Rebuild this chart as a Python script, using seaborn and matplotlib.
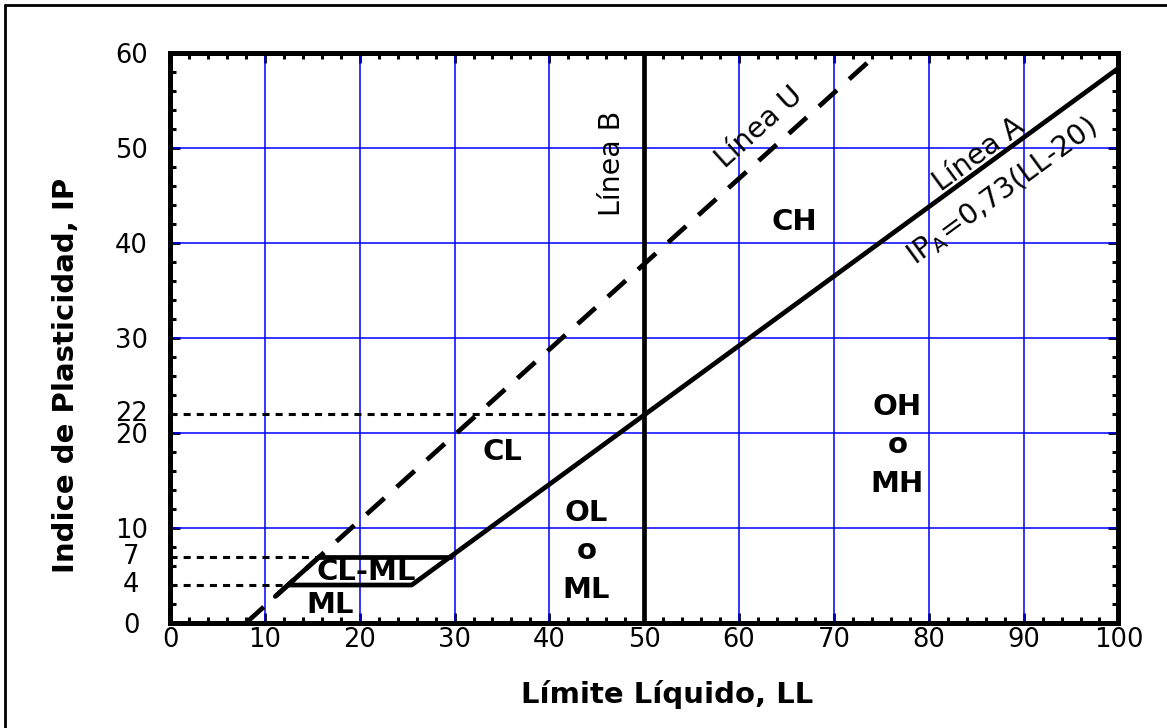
import numpy as np
import matplotlib
matplotlib.use("Agg")
import matplotlib.pyplot as plt
from matplotlib.lines import Line2D
from matplotlib.ticker import MultipleLocator
import seaborn as sns

# Casagrande plasticity chart (IP vs LL)
# Line A: IP = 0.73 (LL - 20)
line_a_ll = [12.44, 25.48, 100.0]
line_a_ip = [4.0, 4.0, 58.4]
# upper edge of the CL-ML band
band_top_ll = [15.78, 29.59]
band_top_ip = [7.0, 7.0]
# Line U: IP = 0.9 (LL - 8)
line_u_ll = [8.0, 74.67]
line_u_ip = [0.0, 60.0]
band_edge_ll = [11.1, 15.78]
band_edge_ip = [2.8, 7.0]
# Line B: LL = 50
line_b_ll = [50.0, 50.0]
line_b_ip = [0.0, 60.0]
# reference levels marked on the IP axis
ref_ip = [4, 7, 22]
ref_ll_end = [12.44, 15.78, 50.0]

x_ticks = [0, 10, 20, 30, 40, 50, 60, 70, 80, 90, 100]
y_ticks = [0, 10, 20, 30, 40, 50, 60]
y_extra = [4, 7, 22]

zones = ["CH", "CL", "OL\no\nML", "OH\no\nMH", "CL-ML", "ML"]
zone_pos = [(65.8, 41.4), (35.1, 17.2), (43.9, 2.63), (76.7, 13.8), (20.7, 4.5), (16.9, 1.05)]

sns.set_theme(style="white")
plt.rcParams["font.family"] = ["DejaVu Sans"]
plt.rcParams["mathtext.default"] = "regular"
plt.rcParams.update({"text.color": "black", "axes.labelcolor": "black",
                     "xtick.color": "black", "ytick.color": "black"})

fig = plt.figure(figsize=(11.67, 7.28), dpi=100)
ax = fig.add_axes([0.1457, 0.1442, 0.8127, 0.7830])

blue = "#0000ff"
lw = 3.4

# grid
for v in x_ticks[1:-1]:
    ax.axvline(v, color=blue, lw=1.1, zorder=1)
for v in y_ticks[1:-1]:
    ax.axhline(v, color=blue, lw=1.1, zorder=1)

# dotted reference lines
for yv, xe in zip(ref_ip, ref_ll_end):
    sns.lineplot(x=[0, xe], y=[yv, yv], ax=ax, color="black", lw=2.2,
                 linestyle=(0, (2.3, 2.0)), estimator=None, sort=False, zorder=3)

# Line U (dashed)
sns.lineplot(x=line_u_ll, y=line_u_ip, ax=ax, color="black", lw=lw,
             linestyle=(0, (5.1, 3.5)), estimator=None, sort=False, zorder=4)
# band edges and Line A
sns.lineplot(x=band_edge_ll, y=band_edge_ip, ax=ax, color="black", lw=lw,
             estimator=None, sort=False, zorder=4, solid_capstyle="round")
sns.lineplot(x=band_top_ll, y=band_top_ip, ax=ax, color="black", lw=lw,
             estimator=None, sort=False, zorder=4, solid_capstyle="round")
sns.lineplot(x=line_a_ll, y=line_a_ip, ax=ax, color="black", lw=lw,
             estimator=None, sort=False, zorder=4, solid_capstyle="round",
             solid_joinstyle="round")
# Line B
sns.lineplot(x=line_b_ll, y=line_b_ip, ax=ax, color="black", lw=lw,
             estimator=None, sort=False, zorder=4)

ax.set_xlim(0, 100)
ax.set_ylim(0, 60)
ax.set_xticks(x_ticks)
ax.set_yticks(y_ticks)
ax.xaxis.set_minor_locator(MultipleLocator(2))
ax.yaxis.set_minor_locator(MultipleLocator(2))
ax.tick_params(which="both", direction="in", top=True, right=True,
               bottom=True, left=True, color="black")
ax.tick_params(which="major", length=7, width=2.0, labelsize=18.5)
ax.tick_params(which="minor", length=4.5, width=2.2)
ax.tick_params(axis="x", which="major", pad=3)
ax.tick_params(axis="y", which="major", pad=28)
for lab in ax.get_yticklabels():
    lab.set_horizontalalignment("center")
for yv in y_extra:
    ax.text(-0.0411, yv, str(yv), transform=ax.get_yaxis_transform(),
            ha="center", va="center", fontsize=18.5)

for s in ax.spines.values():
    s.set_linewidth(3.6)
    s.set_color("black")
    s.set_zorder(6)

ax.set_xlabel("Límite Líquido, LL", fontsize=21, fontweight="bold")
ax.set_ylabel("Indice de Plasticidad, IP", fontsize=21, fontweight="bold")
ax.xaxis.set_label_coords(0.524, -0.126)
ax.xaxis.label.set_va("center")
ax.yaxis.set_label_coords(-0.1096, 0.435)
ax.yaxis.label.set_va("center")

# zone labels
for name, (xv, yv) in zip(zones, zone_pos):
    ax.text(xv, yv, name, ha="center", va="baseline", fontsize=21,
            fontweight="bold", linespacing=1.48, zorder=5)

# line labels
ax.text(46.6, 48.4, "Línea B", rotation=90, ha="center", va="center", fontsize=20.5)
ang_u = np.degrees(np.arctan(0.9))
ang_a = np.degrees(np.arctan(0.73))
ax.text(62.1, 52.2, "Línea U", rotation=ang_u, rotation_mode="anchor",
        transform_rotates_text=True, ha="center", va="center", fontsize=20.5)
ax.text(85.3, 49.3, "Línea A", rotation=ang_a, rotation_mode="anchor",
        transform_rotates_text=True, ha="center", va="center", fontsize=20.5)
ax.text(87.7, 45.4, "IP$_A$=0,73(LL-20)", rotation=ang_a, rotation_mode="anchor",
        transform_rotates_text=True, ha="center", va="center", fontsize=20.5)

# outer frame (top and left edges)
fig.add_artist(Line2D([5 / 1167, 1.0], [1 - 5 / 728, 1 - 5 / 728],
                      transform=fig.transFigure, color="black", lw=2.0))
fig.add_artist(Line2D([5 / 1167, 5 / 1167], [0.0, 1 - 5 / 728],
                      transform=fig.transFigure, color="black", lw=2.0))

fig.savefig("out.png", dpi=100)
